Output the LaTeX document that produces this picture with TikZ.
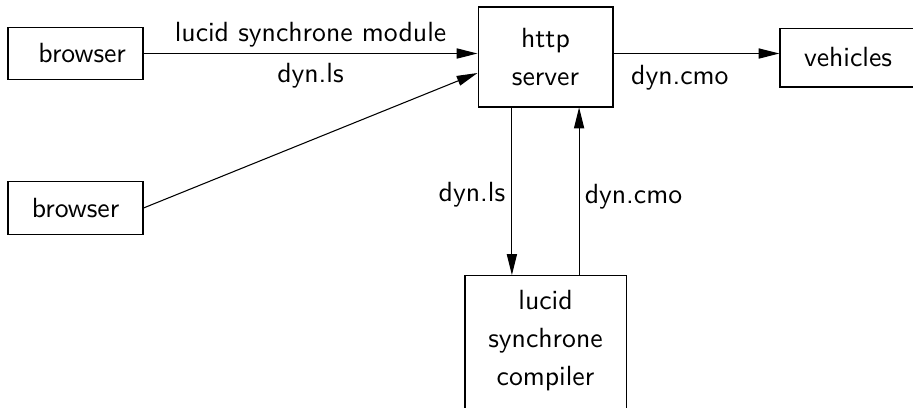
\documentclass[tikz,border=0pt]{standalone}
\usetikzlibrary{arrows.meta}
\begin{document}
\begin{tikzpicture}[x=0.375pt,y=-0.375pt,
    box/.style={draw, inner sep=0pt, align=center, font=\sffamily\fontsize{10.4}{14.25}\selectfont},
    lbl/.style={font=\sffamily\fontsize{10.4}{12}\selectfont},
    arr/.style={-{Triangle[length=7.8pt,width=3.8pt]}}]
        \clip (0,0) rectangle (913,408);

        \node[box, minimum width=50.6pt, minimum height=19.8pt] (b1) at (75.5,53.5) {\hspace*{5pt}browser};
        \node[box, minimum width=50.6pt, minimum height=20.2pt] (b2) at (75.5,208) {browser};
        \node[box, minimum width=50.6pt, minimum height=37.5pt] (server) at (545.5,57) {http\\server};
        \node[box, minimum width=51pt, minimum height=22.1pt] (vehicles) at (848,57.5) {vehicles};
        \node[box, anchor=north, minimum width=60.4pt, inner ysep=5.6pt] (compiler) at (545.5,275) {lucid\\synchrone\\compiler\\\strut};

        \draw[arr] (b1.east) -- (b1.east -| server.west)
            node[lbl, midway, above=-1pt] {lucid synchrone module}
            node[lbl, midway, below=0pt] {dyn.ls};
        \draw[arr] (b2.east) -- ([yshift=-6pt]server.west);
        \draw[arr] (server.east |- b1.east) -- (vehicles.west |- b1.east)
            node[lbl, pos=0.4, below=0.8pt] {dyn.cmo};

        \draw[arr] ([xshift=-12.6pt]server.south) coordinate (d) -- (d |- compiler.north)
            node[lbl, pos=0.52, left=-1pt] {dyn.ls};
        \draw[arr] ([xshift=12.6pt]compiler.north) coordinate (u) -- (u |- server.south)
            node[lbl, pos=0.47, right=-1.4pt] {dyn.cmo};
    \end{tikzpicture}
\end{document}
